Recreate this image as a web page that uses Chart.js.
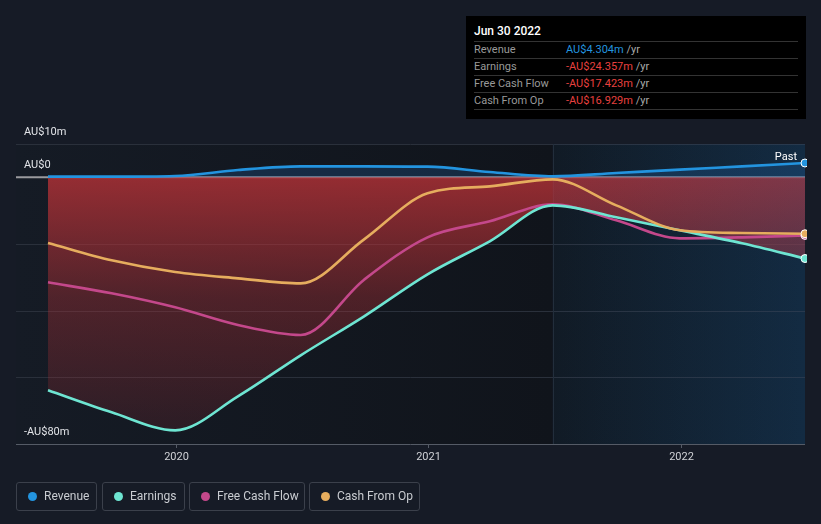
<!DOCTYPE html>
<html>
<head>
<meta charset="utf-8">
<script src="https://cdn.jsdelivr.net/npm/chart.js@4.4.1/dist/chart.umd.min.js"></script>
<style>
  html, body { margin: 0; padding: 0; background: #161b26; width: 821px; height: 524px; overflow: hidden; font-family: Roboto, "Noto Sans", sans-serif; }
  #wrap { position: relative; width: 821px; height: 524px; }
  canvas { position: absolute; left: 0; top: 0; }
  #tip { position: absolute; left: 466px; top: 16px; width: 340px; height: 103px; background: #000; box-sizing: border-box; padding: 0 8px; }
  #tip .title { color: #fff; font-size: 12px; height: 25px; line-height: 31px; font-weight: 500; }
  #tip .row { border-top: 1px solid #333; height: 16px; line-height: 16px; font-size: 11px; position: relative; color: #999; }
  #tip .row:last-child { border-bottom: 1px solid #333; }
  #tip .val { position: absolute; left: 92px; top: 0; }
  #tip .yr { color: #aaa; }
  .lg { position: absolute; top: 482px; height: 29px; box-sizing: border-box; border: 1px solid #3b404b; border-radius: 3px; color: #c9ccd1; font-size: 12px; line-height: 27px; }
  .lg .dot { position: absolute; left: 11px; top: 9px; width: 9px; height: 9px; border-radius: 50%; }
  .lg .tx { position: absolute; left: 27px; top: 0; white-space: nowrap; }
</style>
</head>
<body>
<div id="wrap">
  <canvas id="c" width="821" height="524"></canvas>
  <div id="tip"></div>
  <div id="legend"></div>
</div>
<script>
// ---------- data ----------
const dates = ['2019-06-30','2019-09-30','2019-12-31','2020-03-31','2020-06-30','2020-09-30','2020-12-31','2021-03-31','2021-06-30','2021-09-30','2021-12-31','2022-03-31','2022-06-30'];
const revenue      = [0.2, 0.2, 0.4, 2.2, 3.3, 3.3, 3.2, 1.6, 0.3, 1.3, 2.3, 3.3, 4.304];
const earnings     = [-63.9, -70.5, -75.9, -65.7, -53.4, -41.7, -29.1, -19.2, -8.4, -12.0, -15.9, -19.8, -24.357];
const freeCashFlow = [-31.5, -34.8, -39.0, -44.3, -47.3, -30.7, -18.0, -13.2, -8.1, -12.9, -18.3, -18.0, -17.423];
const cashFromOp   = [-19.7, -24.9, -28.4, -30.3, -31.8, -18.6, -4.8, -2.7, -0.6, -8.4, -15.9, -16.7, -16.929];
const seriesNames  = ['Revenue', 'Earnings', 'Free Cash Flow', 'Cash From Op'];
const seriesColors = ['#2394df', '#6ee5d2', '#c4488b', '#e6ad5e'];
const yTickValues  = [10, 0, -80];
const yTickLabels  = ['AU$10m', 'AU$0', '-AU$80m'];
const gridValues   = [10, 0, -20, -40, -60, -80];
const xTickYears   = [2020, 2021, 2022];
const pastStart    = '2021-06-30';
const tipTitle     = 'Jun 30 2022';
const tipValues    = ['AU$4.304m', '-AU$24.357m', '-AU$17.423m', '-AU$16.929m'];

// ---------- helpers ----------
function toYear(s) {
  const [y, m, d] = s.split('-').map(Number);
  const start = Date.UTC(y, 0, 1), end = Date.UTC(y + 1, 0, 1);
  return y + (Date.UTC(y, m - 1, d) - start) / (end - start);
}
const xs = dates.map(toYear);
const pts = arr => arr.map((v, i) => ({ x: xs[i], y: v }));
const lastOnly = (r) => ({ pointRadius: ctx => ctx.dataIndex === dates.length - 1 ? r : 0 });

// ---------- tooltip box & legend ----------
const tip = document.getElementById('tip');
let th = '<div class="title">' + tipTitle + '</div>';
seriesNames.forEach((n, i) => {
  const col = i === 0 ? '#2394df' : '#e8403f';
  th += '<div class="row">' + n + '<span class="val"><span style="color:' + col + '">' + tipValues[i] + '</span> <span class="yr">/yr</span></span></div>';
});
tip.innerHTML = th;

const lgLeft = [16, 102, 189, 309], lgW = [81, 83, 116, 111];
const lg = document.getElementById('legend');
seriesNames.forEach((n, i) => {
  const d = document.createElement('div');
  d.className = 'lg';
  d.style.left = lgLeft[i] + 'px';
  d.style.width = lgW[i] + 'px';
  d.innerHTML = '<span class="dot" style="background:' + seriesColors[i] + '"></span><span class="tx">' + n + '</span>';
  lg.appendChild(d);
});

// ---------- plugins ----------
const backdrop = {
  id: 'backdrop',
  beforeDraw(chart) {
    const { ctx, chartArea: a, scales: { x, y } } = chart;
    ctx.save();
    const px = x.getPixelForValue(toYear(pastStart));
    let g = ctx.createLinearGradient(a.left, 0, px, 0);
    g.addColorStop(0, '#151b25');
    g.addColorStop(1, '#10141b');
    ctx.fillStyle = g;
    ctx.fillRect(a.left, a.top, px - a.left, a.bottom - a.top);
    g = ctx.createLinearGradient(px, 0, a.right, 0);
    g.addColorStop(0, '#10171f');
    g.addColorStop(1, '#0f1e2c');
    ctx.fillStyle = g;
    ctx.fillRect(px, a.top, a.right - px, a.bottom - a.top);
    // grid lines
    gridValues.forEach(v => {
      const yy = Math.round(y.getPixelForValue(v)) + 0.5;
      ctx.beginPath();
      ctx.moveTo(a.left, yy); ctx.lineTo(a.right, yy);
      ctx.lineWidth = 1;
      ctx.strokeStyle = v === -80 ? '#555b66' : '#2a303b';
      ctx.stroke();
    });
    // vertical past divider
    ctx.beginPath();
    ctx.moveTo(Math.round(px) + 0.5, a.top); ctx.lineTo(Math.round(px) + 0.5, a.bottom);
    ctx.strokeStyle = '#222b36';
    ctx.stroke();
    // zero line
    const y0 = y.getPixelForValue(0);
    ctx.beginPath();
    ctx.moveTo(a.left, y0); ctx.lineTo(a.right, y0);
    ctx.lineWidth = 2;
    ctx.strokeStyle = '#9a9a9e';
    ctx.stroke();
    // x ticks
    ctx.font = '11px Roboto, sans-serif';
    ctx.fillStyle = '#d0d2d6';
    ctx.textAlign = 'center';
    ctx.textBaseline = 'middle';
    xTickYears.forEach(yr => {
      const xx = Math.round(x.getPixelForValue(yr)) + 0.5;
      ctx.beginPath();
      ctx.moveTo(xx, a.bottom); ctx.lineTo(xx, a.bottom + 4);
      ctx.lineWidth = 1;
      ctx.strokeStyle = '#555b66';
      ctx.stroke();
      ctx.fillText(String(yr), xx, a.bottom + 13);
    });
    // y labels
    ctx.textAlign = 'left';
    ctx.fillStyle = '#e2e4e8';
    yTickValues.forEach((v, i) => {
      ctx.fillText(yTickLabels[i], a.left + 8, y.getPixelForValue(v) - 12);
    });
    ctx.restore();
  },
  beforeDatasetsDraw(chart) {
    // blue tint over the "past" region, drawn after the fills and before the lines
    const { ctx, chartArea: a, scales: { x } } = chart;
    const px = x.getPixelForValue(toYear(pastStart));
    ctx.save();
    const g = ctx.createLinearGradient(px, 0, a.right, 0);
    g.addColorStop(0, 'rgba(35,95,155,0.05)');
    g.addColorStop(1, 'rgba(35,95,155,0.2)');
    ctx.fillStyle = g;
    ctx.fillRect(px, a.top, a.right - px, a.bottom - a.top);
    ctx.restore();
  },
  afterDatasetsDraw(chart) {
    const { ctx, chartArea: a } = chart;
    ctx.save();
    ctx.font = '11px Roboto, sans-serif';
    ctx.fillStyle = '#ffffff';
    ctx.textAlign = 'right';
    ctx.textBaseline = 'middle';
    ctx.fillText('Past', a.right - 8, 157);
    ctx.restore();
  }
};

function redFill(context) {
  const chart = context.chart;
  const { ctx, chartArea, scales } = chart;
  if (!chartArea) return 'rgba(190,50,55,0.5)';
  const y0 = scales.y.getPixelForValue(0), y1 = scales.y.getPixelForValue(-80);
  const g = ctx.createLinearGradient(0, y0, 0, y1);
  g.addColorStop(0, 'rgba(185,50,55,0.78)');
  g.addColorStop(0.45, 'rgba(185,50,55,0.36)');
  g.addColorStop(1, 'rgba(185,50,55,0.12)');
  return g;
}

const common = {
  borderWidth: 2.6,
  cubicInterpolationMode: 'monotone',
  pointBorderColor: '#ffffff',
  pointBorderWidth: 1,
  clip: 2,
  ...lastOnly(4)
};

new Chart(document.getElementById('c'), {
  type: 'line',
  data: {
    datasets: [
      { label: seriesNames[2], data: pts(freeCashFlow), borderColor: seriesColors[2], pointBackgroundColor: seriesColors[2], fill: false, order: 3, ...common },
      { label: seriesNames[1], data: pts(earnings), borderColor: seriesColors[1], pointBackgroundColor: seriesColors[1], fill: { value: 0 }, backgroundColor: redFill, order: 2, ...common },
      { label: seriesNames[3], data: pts(cashFromOp), borderColor: seriesColors[3], pointBackgroundColor: seriesColors[3], fill: false, order: 1, ...common },
      { label: seriesNames[0], data: pts(revenue), borderColor: seriesColors[0], pointBackgroundColor: seriesColors[0], fill: { value: 0 }, backgroundColor: 'rgba(35,120,200,0.22)', order: 0, ...common }
    ]
  },
  options: {
    responsive: false,
    animation: false,
    events: [],
    layout: { padding: { left: 16, right: 16, top: 144, bottom: 80 } },
    scales: {
      x: { type: 'linear', display: false, min: 2020 - (176 - 16) / 252.5, max: xs[xs.length - 1] },
      y: { display: false, min: -80, max: 10 }
    },
    plugins: { legend: { display: false }, tooltip: { enabled: false }, filler: { drawTime: 'beforeDatasetsDraw' } }
  },
  plugins: [backdrop]
});
</script>
</body>
</html>
